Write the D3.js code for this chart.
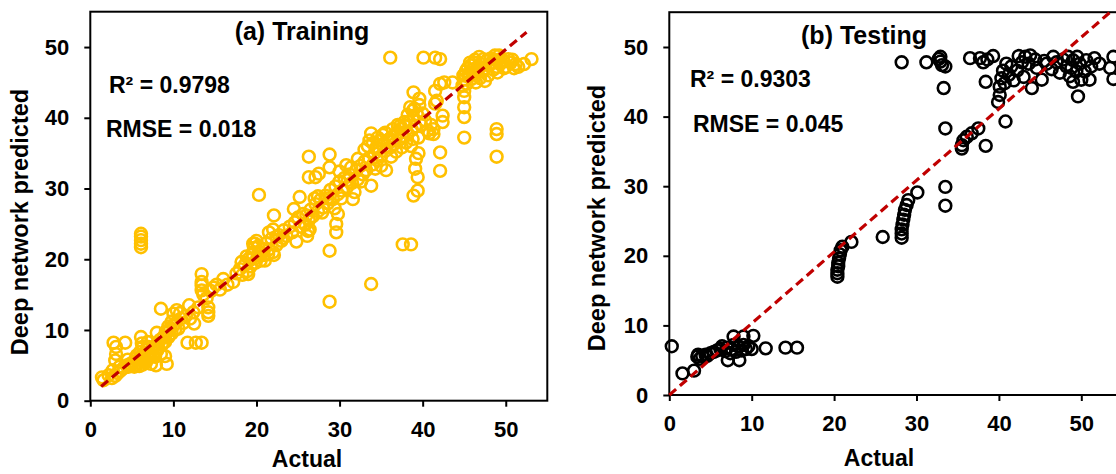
<!DOCTYPE html>
<html>
<head>
<meta charset="utf-8">
<script src="https://cdn.jsdelivr.net/npm/d3@7"></script>
<style>
  body { margin: 0; background: #fff; }
  text { font-family: "Liberation Sans", Arial, sans-serif; font-weight: bold; fill: #000; }
</style>
</head>
<body>
<div id="chart"></div>
<script>
// [actual, predicted]
const trainLow = [
  [1.4,3.3],[1.6,2.9],[2.2,3.6],[2.6,3.2],[3.0,3.5],[3.3,3.9],[3.6,4.2],[4.0,4.6],[4.4,5.0],[4.8,5.2],
  [5.2,5.5],[5.5,5.0],[5.8,5.3],[6.0,5.8],[6.2,6.3],[6.4,5.6],[6.6,6.8],[6.8,7.2],[7.0,6.0],[7.2,6.5],
  [7.4,7.0],[7.6,7.5],[7.8,6.2],[8.0,8.0],[8.2,7.4],[8.4,8.6],[8.6,7.9],[8.8,9.0],[9.0,8.3],[9.2,9.6],
  [9.4,9.0],[9.6,10.2],[9.8,9.5],[10.0,10.6],[10.3,11.0],[10.6,10.2],[10.9,11.6],[11.2,11.0],[11.5,12.0],
  [5.9,4.9],[6.3,5.1],[6.7,5.4],[7.3,5.2],[7.9,5.0],[9.2,5.2],[9.0,6.3],[8.5,6.6],[8.0,9.6],[9.1,9.8],
  [6.1,9.0],[6.2,8.1],[6.3,7.6],[5.6,6.4],[4.5,5.8],[3.1,7.6],[2.8,8.2],[4.2,8.2],[3.0,5.7],[3.1,6.6],
  [3.5,4.8],[2.7,4.3],[8.5,13.0],[10.4,12.8],[11.9,13.5],[12.5,10.9],[11.7,8.2],[12.7,8.2],[13.4,8.2],
  [10.0,12.3],[10.8,12.4],
  [6.5,6.0],[7.0,7.6],[7.5,6.4],[8.0,7.0],[8.8,8.2],[9.4,10.5],[9.8,11.2],[10.2,10.0],[5.5,6.0],[6.0,6.9],
  [6.9,8.3],[5.3,4.8],[4.6,4.8],
  [6.1,21.7],[6.1,22.2],[6.1,22.7],[6.1,23.2],[6.1,23.6]
];
const trainMid = [
  [12.0,11.6],[12.4,12.5],[13.0,13.2],[13.4,17.9],[13.4,16.8],[13.4,16.3],[13.4,15.6],[13.6,15.0],[14.0,14.5],
  [14.2,13.2],[14.2,12.5],[14.2,12.0],[14.5,15.5],[14.8,16.0],[15.2,16.4],[15.6,15.7],[16.0,17.2],[16.5,16.4],
  [17.2,16.8],[17.6,18.0],[18.0,18.6],[18.3,17.8],[18.6,19.2],[18.9,18.3],[19.1,20.1],[19.3,19.0],[19.5,20.8],
  [19.7,21.6],[19.9,19.5],[20.1,20.2],[20.3,21.0],[20.5,19.8],[20.7,21.5],[20.9,20.6],[21.2,22.3],[21.5,21.4],
  [21.8,22.9],[22.0,21.0],[22.1,20.6],[22.4,22.0],[22.7,23.4],[23.0,22.6],[23.3,24.1],[23.6,23.3],[24.0,24.6],
  [24.3,23.8],[24.6,25.2],[24.8,22.5],[25.0,25.9],[25.3,24.6],[25.6,26.4],[25.9,24.9],[26.1,23.3],[26.2,24.0],
  [26.3,25.5],[26.5,27.0],[26.8,26.1],[27.1,27.8],[27.4,26.8],[27.7,28.4],[28.0,27.3],[28.3,29.0],[28.6,27.9],
  [28.9,29.8],[29.2,28.5],[29.5,30.3],[29.8,29.2],[30.0,31.0],[30.3,29.7],
  [20.3,29.1],[22.1,26.2],[26.3,34.5],[26.3,31.6],[27.1,31.6],[27.5,32.1],[25.2,28.8],[24.5,27.1],[28.8,34.8],
  [28.8,33.0],[28.8,21.2],[28.8,14.0],[29.6,25.0],[29.6,23.8],[29.4,27.2],[29.8,26.4],[30.2,28.6],[19.6,22.2],
  [20.0,22.6],[21.5,23.8],[22.0,24.2],
  [18.2,19.6],[18.8,20.4],[19.0,17.9],[19.4,20.0],[19.8,22.2],[20.2,21.8],[20.6,20.9],[21.0,19.8],[21.4,20.7],
  [22.4,23.2],[23.2,23.0],[25.8,25.0],[26.0,26.2],[26.4,24.2],[26.6,26.0],[27.0,28.6],[27.4,28.9],[27.9,26.6],
  [28.5,28.6]
];
const trainHigh = [
  [30.6,31.5],[30.9,30.2],[31.2,32.0],[31.5,30.8],[31.6,28.5],[31.8,29.5],[32.0,32.6],[32.2,31.3],[32.5,33.2],
  [32.8,32.0],[33.0,33.8],[33.2,32.6],[33.5,34.3],[33.8,30.4],[33.8,16.5],[33.8,37.8],[33.6,36.8],[34.0,33.4],
  [34.2,35.0],[34.5,34.0],[34.8,35.6],[35.0,34.6],[35.2,36.2],[35.5,35.3],[35.6,32.6],[35.8,36.8],[36.1,35.8],
  [36.3,37.3],[36.6,36.3],[36.9,37.9],[37.2,36.9],[37.4,38.4],[37.7,37.3],[37.9,38.9],[38.2,37.8],[38.4,39.4],
  [38.6,36.0],[38.7,38.3],[38.9,40.0],[39.1,38.8],[39.3,40.5],[39.5,37.2],[39.5,35.0],[39.2,34.2],[37.6,22.1],
  [38.6,22.1],[38.9,29.0],[39.4,29.7],[39.4,31.6],[39.1,32.8],[38.9,43.6],[39.6,42.7],[38.5,41.5],[39.0,41.3],
  [36.1,48.5],[35.0,36.8],[34.6,37.2],[37.0,39.0],[36.4,38.4],
  [33.0,35.5],[33.4,36.0],[34.0,36.4],[34.4,35.8],[35.2,37.6],[35.5,37.9],[36.0,37.0],[36.5,36.8],[37.0,37.7],
  [37.3,38.9],[37.8,39.4],[38.2,40.4],[36.2,34.5],[36.8,35.2],[37.5,35.8],[38.0,36.5],[34.3,32.8],[35.0,33.2],
  [32.2,34.2],[31.4,33.0],[30.8,33.3],[30.0,32.4],[31.0,31.2],[32.6,31.0],[38.8,41.0],[39.6,41.8],[39.8,39.0],
  [38.8,37.0]
];
const trainTop = [
  [40.0,40.6],[40.3,39.6],[40.6,38.2],[40.8,37.8],[41.0,39.0],[41.3,38.4],[41.3,37.7],[41.5,42.0],[41.7,42.4],
  [41.5,43.8],[42.1,44.8],[42.1,35.1],[42.1,32.5],[42.4,40.3],[42.4,39.4],[42.6,45.0],[43.6,45.0],[40.1,48.5],
  [41.5,48.5],[42.1,48.3],[45.0,37.2],[45.0,40.1],[45.0,41.5],[45.0,42.9],[45.0,43.8],[44.8,44.6],[45.0,45.4],
  [45.1,46.0],[45.2,46.6],[45.4,47.0],[45.6,46.2],[45.8,47.4],[46.0,46.8],[46.2,47.8],[46.4,45.0],[46.6,47.2],
  [46.8,48.6],[47.0,47.6],[47.2,46.6],[47.5,45.2],[47.7,48.1],[48.0,47.4],[48.2,48.4],[48.5,46.8],[48.7,48.8],
  [48.9,47.2],[48.9,38.4],[48.9,37.7],[48.9,34.5],[49.1,48.2],[49.3,47.6],[49.7,48.1],[50.0,47.2],[50.3,48.3],
  [50.6,47.8],[51.0,47.0],[51.2,47.6],[52.2,47.6],[53.1,48.3],
  [44.9,46.0],[45.3,44.8],[45.5,45.8],[45.7,47.8],[46.1,46.2],[46.3,48.2],[46.9,45.6],[47.3,48.3],[47.9,46.0],
  [48.3,47.8],[48.6,48.2],[49.0,46.4],[49.2,48.8],[49.8,47.0],[50.8,48.2],[51.5,47.2],[47.5,47.0],[46.5,46.6],
  [45.9,45.5]
];
const testLow = [
  [0.3,7.0],[1.6,3.1],[3.0,3.5],[3.4,5.5],[3.5,5.8],[3.7,5.2],[4.0,5.6],[4.4,5.8],[4.6,5.6],[5.0,6.0],
  [5.4,6.2],[5.8,6.4],[6.2,6.6],[6.4,7.0],[6.8,6.3],[7.0,6.8],[7.1,5.0],[7.4,6.0],[7.6,6.6],[7.8,7.2],
  [7.8,8.4],[8.1,6.2],[8.4,7.0],[8.5,5.0],[8.8,6.4],[9.0,8.4],[9.0,7.2],[9.3,6.6],[9.6,7.0],[10.0,6.6],
  [10.2,8.5],[11.7,6.7],[14.1,6.8],[15.5,6.8]
];
const testMid = [
  [20.4,17.0],[20.4,17.5],[20.4,18.0],[20.5,18.5],[20.5,19.0],[20.6,19.6],[20.7,20.2],[20.8,20.8],[21.0,21.3],
  [22.1,22.0],[25.9,22.7],
  [28.2,22.6],[28.2,23.2],[28.2,23.8],[28.3,24.5],[28.4,25.2],[28.5,25.9],[28.6,26.6],[28.8,27.3],[29.0,28.0],
  [30.1,29.1],[33.5,29.9],[33.5,27.2],
  [35.5,35.4],[35.5,35.9],[35.7,36.6],[36.1,37.1],[36.7,37.6],[37.5,38.3],[38.4,35.8],[33.5,38.3],[33.3,44.1],
  [39.9,42.1],[40.1,43.1],[40.1,44.3],[40.3,45.5],[40.5,46.6],[40.9,47.6],[40.7,44.8],[40.8,39.3]
];
const testTop = [
  [28.2,47.8],[31.2,47.8],[32.7,48.3],[32.9,48.6],[32.9,47.9],[33.1,47.4],[33.5,47.2],
  [36.5,48.4],[37.7,48.4],[38.6,48.2],[39.3,48.7],[38.1,47.8],[38.4,45.0],
  [42.4,48.7],[43.2,48.6],[43.8,48.8],[43.6,47.6],[42.2,46.6],[41.8,45.2],[43.0,45.7],[44.0,44.1],
  [45.2,45.3],[46.6,48.6],[45.8,47.6],[44.6,47.0],[47.4,46.3],[46.4,46.8],
  [48.4,48.6],[49.0,48.1],[49.8,47.6],[48.2,47.2],[49.4,46.5],[48.6,45.8],[50.0,45.3],[49.0,45.0],[49.6,42.9],
  [50.6,48.1],[51.6,48.4],[51.2,47.2],[51.0,45.3],[52.2,47.6],[53.9,48.6],[53.5,47.0],[53.9,45.4],
  [41.2,46.0],[41.5,47.2],[42.8,47.8],[44.4,48.2],[45.5,48.0],[47.0,47.8],[47.8,48.2],[48.8,47.0],[49.5,48.6],[50.4,46.5]
];
const trainFit = [[1.3, 2.0], [52.5, 52.1]];
const testFit = [[0, 0], [53.5, 55]];
const ticks = [0, 10, 20, 30, 40, 50];

const W = 1116, H = 474;

const svg = d3.select("#chart").append("svg")
  .attr("width", W).attr("height", H)
  .style("display", "block");

const label = (g, x, y, str, size, anchor, rot = 0) =>
  g.append("text")
    .attr("transform", `translate(${x},${y}) rotate(${rot})`)
    .attr("text-anchor", anchor)
    .style("font-size", size + "px")
    .text(str);

const panel = ({ box, data, color, fit, title, r2, rmse, txt }) => {
  const [left, top, right, bottom] = box;
  const x = d3.scaleLinear().domain([0, 55]).range([left, right]);
  const y = d3.scaleLinear().domain([0, 55]).range([bottom, top]);
  const g = svg.append("g");

  const xAxis = g.append("g")
    .attr("transform", `translate(0,${bottom})`)
    .call(d3.axisBottom(x).tickValues(ticks).tickSize(6).tickSizeOuter(0).tickPadding(14.5));
  const yAxis = g.append("g")
    .attr("transform", `translate(${left},0)`)
    .call(d3.axisLeft(y).tickValues(ticks).tickSize(6).tickSizeOuter(0).tickPadding(15));
  [xAxis, yAxis].forEach((a) => {
    a.select(".domain").remove();
    a.selectAll("line").attr("stroke", "#000").attr("stroke-width", 2);
    a.selectAll("text")
      .attr("fill", "#000")
      .style("font-size", "22px");
  });

  g.append("rect")
    .attr("x", left).attr("y", top)
    .attr("width", right - left).attr("height", bottom - top)
    .attr("fill", "none").attr("stroke", "#000").attr("stroke-width", 2);

  g.append("g").selectAll("circle")
    .data(data)
    .join("circle")
    .attr("cx", (d) => x(d[0]))
    .attr("cy", (d) => y(d[1]))
    .attr("r", 5.9)
    .attr("fill", "none")
    .attr("stroke", color)
    .attr("stroke-width", 2.6);

  g.append("path")
    .datum(fit)
    .attr("fill", "none")
    .attr("stroke", "#c00000")
    .attr("stroke-width", 3.2)
    .attr("stroke-dasharray", "9,5")
    .attr("d", d3.line().x((d) => x(d[0])).y((d) => y(d[1])));

  label(g, txt.title[0], txt.title[1], title, 25, "middle");
  label(g, txt.r2[0], txt.r2[1], r2, 23, "start");
  label(g, txt.rmse[0], txt.rmse[1], rmse, 23, "start");
  label(g, txt.xl[0], txt.xl[1], "Actual", 23, "middle");
  label(g, txt.yl[0], txt.yl[1], "Deep network predicted", 23.5, "middle", -90);
};

panel({
  box: [90.3, 11.7, 547.3, 400.7],
  data: [...trainLow, ...trainMid, ...trainHigh, ...trainTop],
  color: "#ffc000",
  fit: trainFit,
  title: "(a) Training",
  r2: "R² = 0.9798",
  rmse: "RMSE = 0.018",
  txt: { title: [302, 40], r2: [109, 93], rmse: [106, 137], xl: [307, 467], yl: [28, 222] },
});

panel({
  box: [669.3, 12.2, 1122.5, 395],
  data: [...testLow, ...testMid, ...testTop],
  color: "#000",
  fit: testFit,
  title: "(b) Testing",
  r2: "R² = 0.9303",
  rmse: "RMSE = 0.045",
  txt: { title: [864, 44], r2: [690, 87], rmse: [693, 132], xl: [879, 466], yl: [605, 218] },
});
</script>
</body>
</html>
